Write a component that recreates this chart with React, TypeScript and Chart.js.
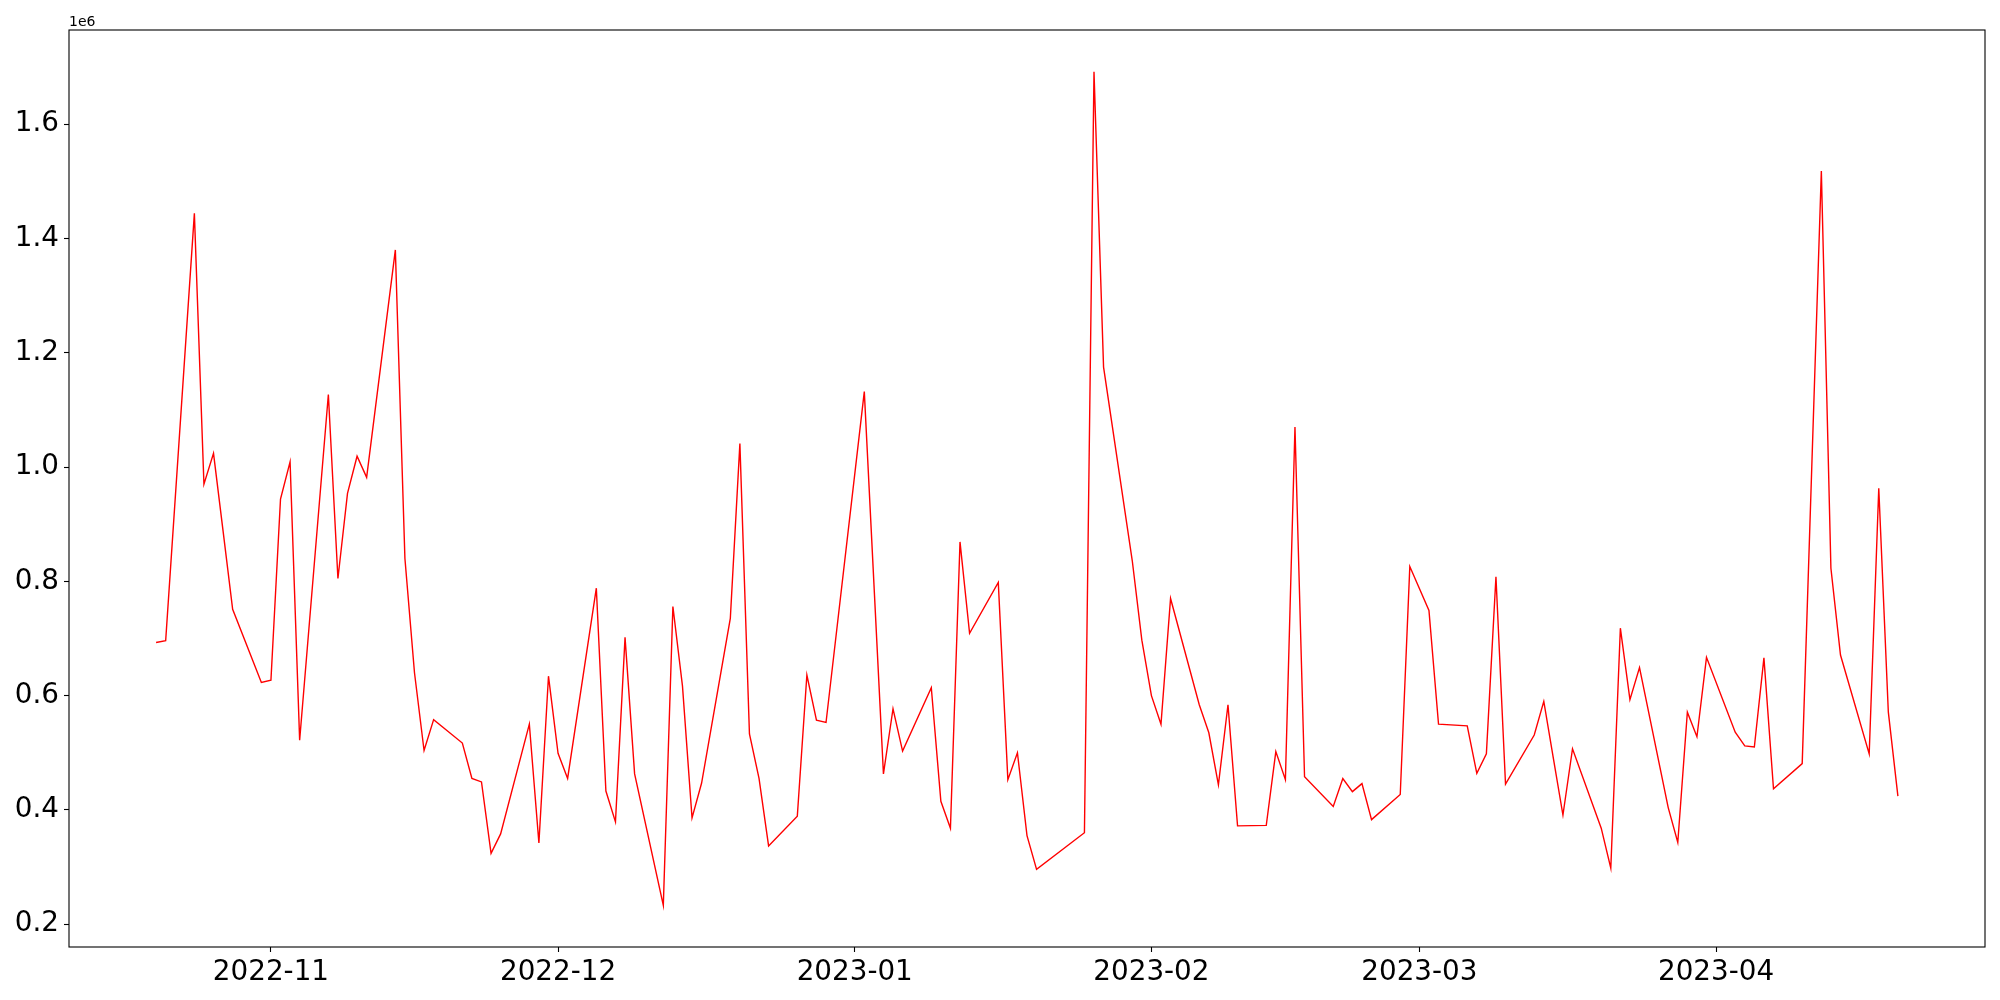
import React, { useEffect, useRef } from "react";
import { Chart, registerables } from "chart.js";

Chart.register(...registerables);

const dates: string[] = [
  "2022-10-20", "2022-10-21", "2022-10-24", "2022-10-25", "2022-10-26", "2022-10-27", "2022-10-28",
  "2022-10-31", "2022-11-01", "2022-11-02", "2022-11-03", "2022-11-04",
  "2022-11-07", "2022-11-08", "2022-11-09", "2022-11-10", "2022-11-11",
  "2022-11-14", "2022-11-15", "2022-11-16", "2022-11-17", "2022-11-18",
  "2022-11-21", "2022-11-22", "2022-11-23", "2022-11-24", "2022-11-25",
  "2022-11-28", "2022-11-29", "2022-11-30", "2022-12-01", "2022-12-02",
  "2022-12-05", "2022-12-06", "2022-12-07", "2022-12-08", "2022-12-09",
  "2022-12-12", "2022-12-13", "2022-12-14", "2022-12-15", "2022-12-16",
  "2022-12-19", "2022-12-20", "2022-12-21", "2022-12-22", "2022-12-23",
  "2022-12-26", "2022-12-27", "2022-12-28", "2022-12-29",
  "2023-01-02", "2023-01-04", "2023-01-05", "2023-01-06",
  "2023-01-09", "2023-01-10", "2023-01-11", "2023-01-12", "2023-01-13",
  "2023-01-16", "2023-01-17", "2023-01-18", "2023-01-19", "2023-01-20",
  "2023-01-25", "2023-01-26", "2023-01-27",
  "2023-01-30", "2023-01-31", "2023-02-01", "2023-02-02", "2023-02-03",
  "2023-02-06", "2023-02-07", "2023-02-08", "2023-02-09", "2023-02-10",
  "2023-02-13", "2023-02-14", "2023-02-15", "2023-02-16", "2023-02-17",
  "2023-02-20", "2023-02-21", "2023-02-22", "2023-02-23", "2023-02-24",
  "2023-02-27", "2023-02-28", "2023-03-02", "2023-03-03",
  "2023-03-06", "2023-03-07", "2023-03-08", "2023-03-09", "2023-03-10",
  "2023-03-13", "2023-03-14", "2023-03-15", "2023-03-16", "2023-03-17",
  "2023-03-20", "2023-03-21", "2023-03-22", "2023-03-23", "2023-03-24",
  "2023-03-27", "2023-03-28", "2023-03-29", "2023-03-30", "2023-03-31",
  "2023-04-03", "2023-04-04", "2023-04-05", "2023-04-06", "2023-04-07",
  "2023-04-10", "2023-04-11", "2023-04-12", "2023-04-13", "2023-04-14",
  "2023-04-17", "2023-04-18", "2023-04-19", "2023-04-20",
];

const volumes: number[] = [
  693000, 696000, 1444000, 970000, 1024000, 888000, 751000,
  623000, 627000, 944000, 1009000, 522000,
  1127000, 805000, 954000, 1019000, 982000,
  1380000, 840000, 640000, 504000, 558000,
  517000, 455000, 449000, 324000, 358000,
  550000, 342000, 634000, 499000, 455000,
  788000, 433000, 379000, 702000, 463000,
  233000, 756000, 617000, 386000, 447000,
  735000, 1041000, 533000, 455000, 337000,
  389000, 636000, 557000, 553000,
  1132000, 463000, 577000, 503000,
  614000, 415000, 368000, 869000, 709000,
  798000, 453000, 500000, 355000, 296000,
  360000, 1692000, 1175000,
  836000, 697000, 600000, 550000, 770000,
  584000, 535000, 444000, 584000, 372000,
  373000, 502000, 453000, 1070000, 458000,
  406000, 455000, 432000, 446000, 383000,
  427000, 826000, 749000, 550000,
  547000, 464000, 498000, 808000, 445000,
  531000, 590000, 490000, 391000, 507000,
  368000, 298000, 718000, 593000, 649000,
  404000, 343000, 571000, 528000, 667000,
  536000, 512000, 510000, 666000, 437000,
  481000, 1000000, 1518000, 823000, 671000,
  498000, 963000, 571000, 424000,
];

const monthTickDates: string[] = ["2022-11-01", "2022-12-01", "2023-01-01", "2023-02-01", "2023-03-01", "2023-04-01"];
const monthTickLabels: string[] = ["2022-11", "2022-12", "2023-01", "2023-02", "2023-03", "2023-04"];
const yTickValues: number[] = [200000, 400000, 600000, 800000, 1000000, 1200000, 1400000, 1600000];
const yTickLabels: string[] = ["0.2", "0.4", "0.6", "0.8", "1.0", "1.2", "1.4", "1.6"];
const offsetLabel = "1e6";

const DAY_MS = 86400000;
const toDay = (s: string) => Date.parse(s + "T00:00:00Z") / DAY_MS;

const FONT = "'DejaVu Sans', Verdana, sans-serif";

export default function App() {
  const canvasRef = useRef<HTMLCanvasElement | null>(null);

  useEffect(() => {
    const canvas = canvasRef.current;
    if (!canvas) return;

    const points = dates.map((d, i) => ({ x: toDay(d), y: volumes[i] }));
    const xs = points.map((p) => p.x);
    const xMinD = Math.min(...xs);
    const xMaxD = Math.max(...xs);
    const xPad = (xMaxD - xMinD) * 0.05;
    const yMinD = Math.min(...volumes);
    const yMaxD = Math.max(...volumes);
    const yPad = (yMaxD - yMinD) * 0.05;
    const xTickVals = monthTickDates.map(toDay);

    const framePlugin = {
      id: "mplFrame",
      afterDraw(chart: any) {
        const { ctx, chartArea: a } = chart;
        ctx.save();
        ctx.strokeStyle = "#000";
        ctx.lineWidth = 1.1;
        ctx.strokeRect(a.left, a.top, a.right - a.left, a.bottom - a.top);
        ctx.fillStyle = "#000";
        ctx.font = `14px ${FONT}`;
        ctx.textAlign = "left";
        ctx.textBaseline = "alphabetic";
        ctx.fillText(offsetLabel, a.left, a.top - 4);
        ctx.restore();
      },
    };

    const chart = new Chart(canvas, {
      type: "line",
      data: {
        datasets: [
          {
            data: points,
            borderColor: "#ff0000",
            backgroundColor: "#ff0000",
            borderWidth: 1.4,
            pointRadius: 0,
            tension: 0,
            fill: false,
          },
        ],
      },
      options: {
        responsive: false,
        animation: false,
        devicePixelRatio: 1,
        layout: { padding: { top: 30, right: 15, left: 0, bottom: 0 } },
        plugins: {
          legend: { display: false },
          tooltip: { enabled: false },
        },
        scales: {
          x: {
            type: "linear",
            min: xMinD - xPad,
            max: xMaxD + xPad,
            border: { display: false },
            grid: {
              display: true,
              drawOnChartArea: false,
              drawTicks: true,
              tickLength: 5,
              tickColor: "#000",
              tickWidth: 1.1,
            },
            afterBuildTicks: (scale: any) => {
              scale.ticks = xTickVals.map((v) => ({ value: v }));
            },
            afterFit: (scale: any) => {
              scale.height = 53;
            },
            ticks: {
              autoSkip: false,
              maxRotation: 0,
              minRotation: 0,
              padding: 4,
              color: "#000",
              font: { family: FONT, size: 27.8 },
              callback: (_v: any, i: number) => monthTickLabels[i],
            },
          },
          y: {
            type: "linear",
            min: yMinD - yPad,
            max: yMaxD + yPad,
            border: { display: false },
            grid: {
              display: true,
              drawOnChartArea: false,
              drawTicks: true,
              tickLength: 5,
              tickColor: "#000",
              tickWidth: 1.1,
            },
            afterBuildTicks: (scale: any) => {
              scale.ticks = yTickValues.map((v) => ({ value: v }));
            },
            afterFit: (scale: any) => {
              scale.width = 69;
            },
            ticks: {
              autoSkip: false,
              padding: 5,
              color: "#000",
              font: { family: FONT, size: 27.8 },
              callback: (_v: any, i: number) => yTickLabels[i],
            },
          },
        },
      },
      plugins: [framePlugin],
    } as any);

    return () => chart.destroy();
  }, []);

  return (
    <div style={{ position: "fixed", left: 0, top: 0, width: 2000, height: 1000, background: "#fff" }}>
      <canvas ref={canvasRef} width={2000} height={1000} style={{ width: 2000, height: 1000, display: "block" }} />
    </div>
  );
}
